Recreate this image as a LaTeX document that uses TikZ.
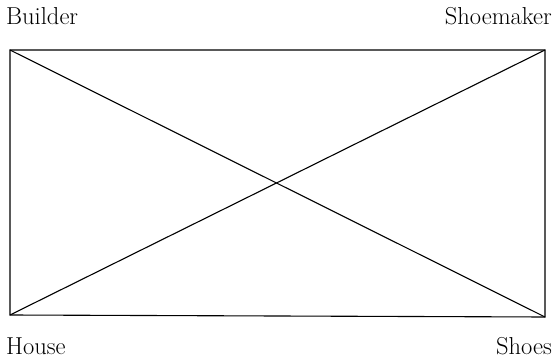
\documentclass[tikz,border=0pt]{standalone}
\begin{document}
\begin{tikzpicture}[x=1pt,y=1pt,
  lbl/.style={inner sep=0pt,font=\fontsize{24.5}{29}\selectfont},
  edge/.style={line width=1.1pt,line join=miter}]
\useasboundingbox (0,0) rectangle (554,359);
\coordinate (TL) at (10,309);
\coordinate (TR) at (545,309);
\coordinate (BL) at (10,44);
\coordinate (BR) at (545,42);
\draw[edge] (TL) -- (TR) -- (BR) -- (BL) -- cycle;
\draw[edge] (TL) -- (BR);
\draw[edge] (BL) -- (TR);
\node[lbl,anchor=base west] (builder) at (6,334) {Builder};
\node[lbl,anchor=base east] (shoemaker) at (552,334) {Shoemaker};
\node[lbl,anchor=base west] (house) at (6,5) {House};
\node[lbl,anchor=base east] (shoes) at (552,5) {Shoes};
\end{tikzpicture}
\end{document}
